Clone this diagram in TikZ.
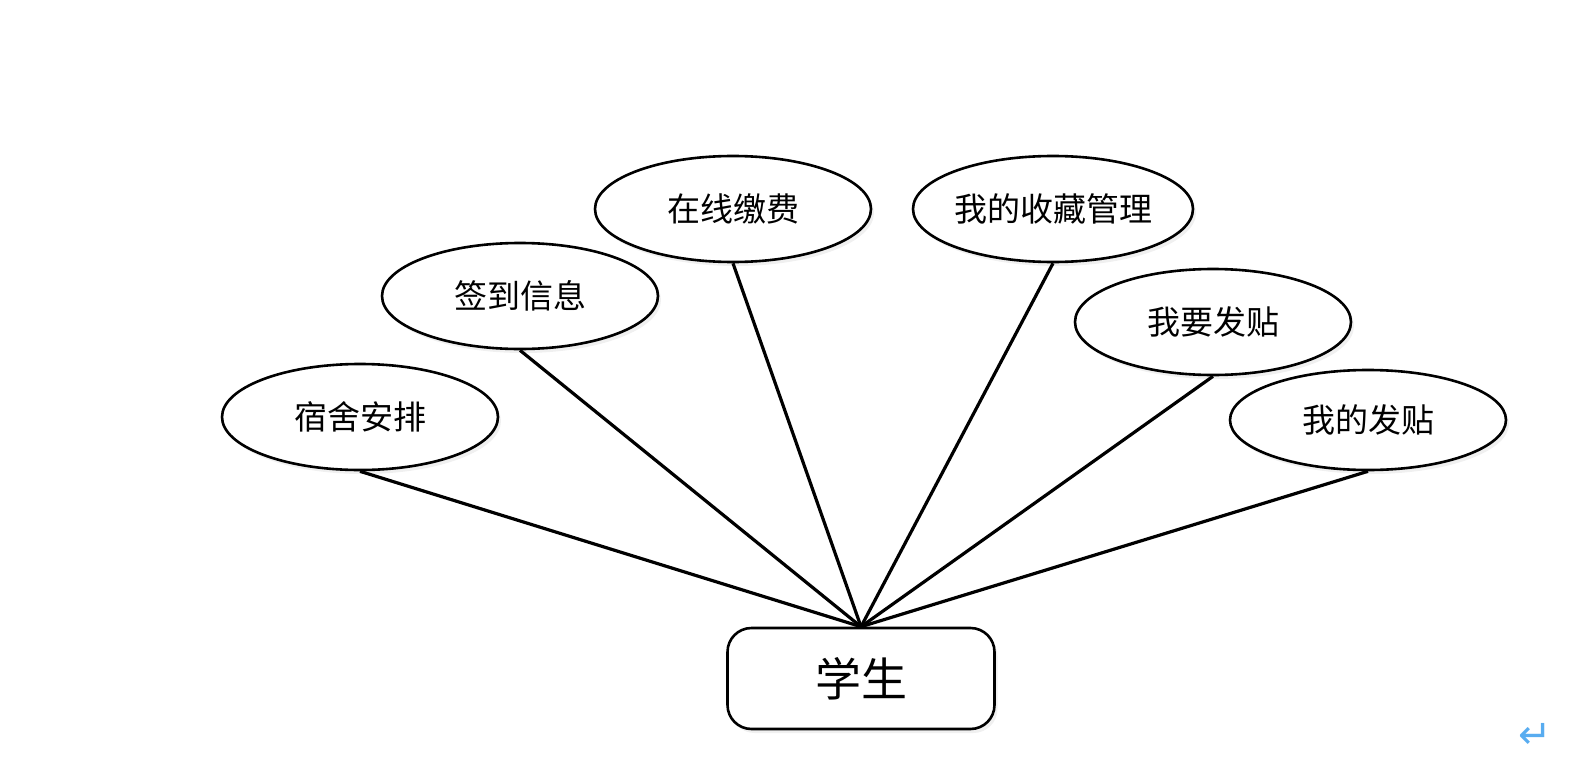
\documentclass[tikz,border=0pt]{standalone}
\usepackage{fontspec}
\usepackage{tikz}
\usetikzlibrary{shapes.geometric,shadows}
\newfontfamily\cjk{Noto Sans CJK SC}
\newfontfamily\symfont{DejaVu Sans}
\definecolor{markblue}{RGB}{88,172,240}
\tikzset{
  attr/.style={ellipse, draw, line width=2.6pt, fill=white, minimum width=276pt, minimum height=106pt, inner sep=0pt, font=\cjk\fontsize{33}{38}\selectfont, drop shadow={opacity=0.12, shadow xshift=3pt, shadow yshift=-4pt}},
  entity/.style={rectangle, rounded corners=24pt, draw, line width=2.6pt, fill=white, minimum width=267pt, minimum height=101pt, inner sep=0pt, font=\cjk\fontsize{46}{52}\selectfont, drop shadow={opacity=0.12, shadow xshift=3pt, shadow yshift=-4pt}},
  link/.style={line width=3.2pt}
}
\begin{document}
\begin{tikzpicture}[x=1pt,y=-1pt]
\useasboundingbox (0,0) rectangle (1572,776);
\node[entity] (S) at (861,678.5) {学生};
\node[attr] (N0) at (360,417) {宿舍安排};
\node[attr] (N1) at (520,296) {签到信息};
\node[attr] (N2) at (733,209) {在线缴费};
\node[attr] (N3) at (1053,209) {我的收藏管理};
\node[attr] (N4) at (1213,322) {我要发贴};
\node[attr, minimum height=100pt] (N5) at (1368,420) {我的发贴};
\foreach \n in {N0,N1,N2,N3,N4,N5}
  \draw[link] (S.north) -- (\n.south);
\node[text=markblue, font=\symfont\fontsize{40}{40}\selectfont, inner sep=0pt] (M) at (1535,736) {↵};
\end{tikzpicture}
\end{document}
